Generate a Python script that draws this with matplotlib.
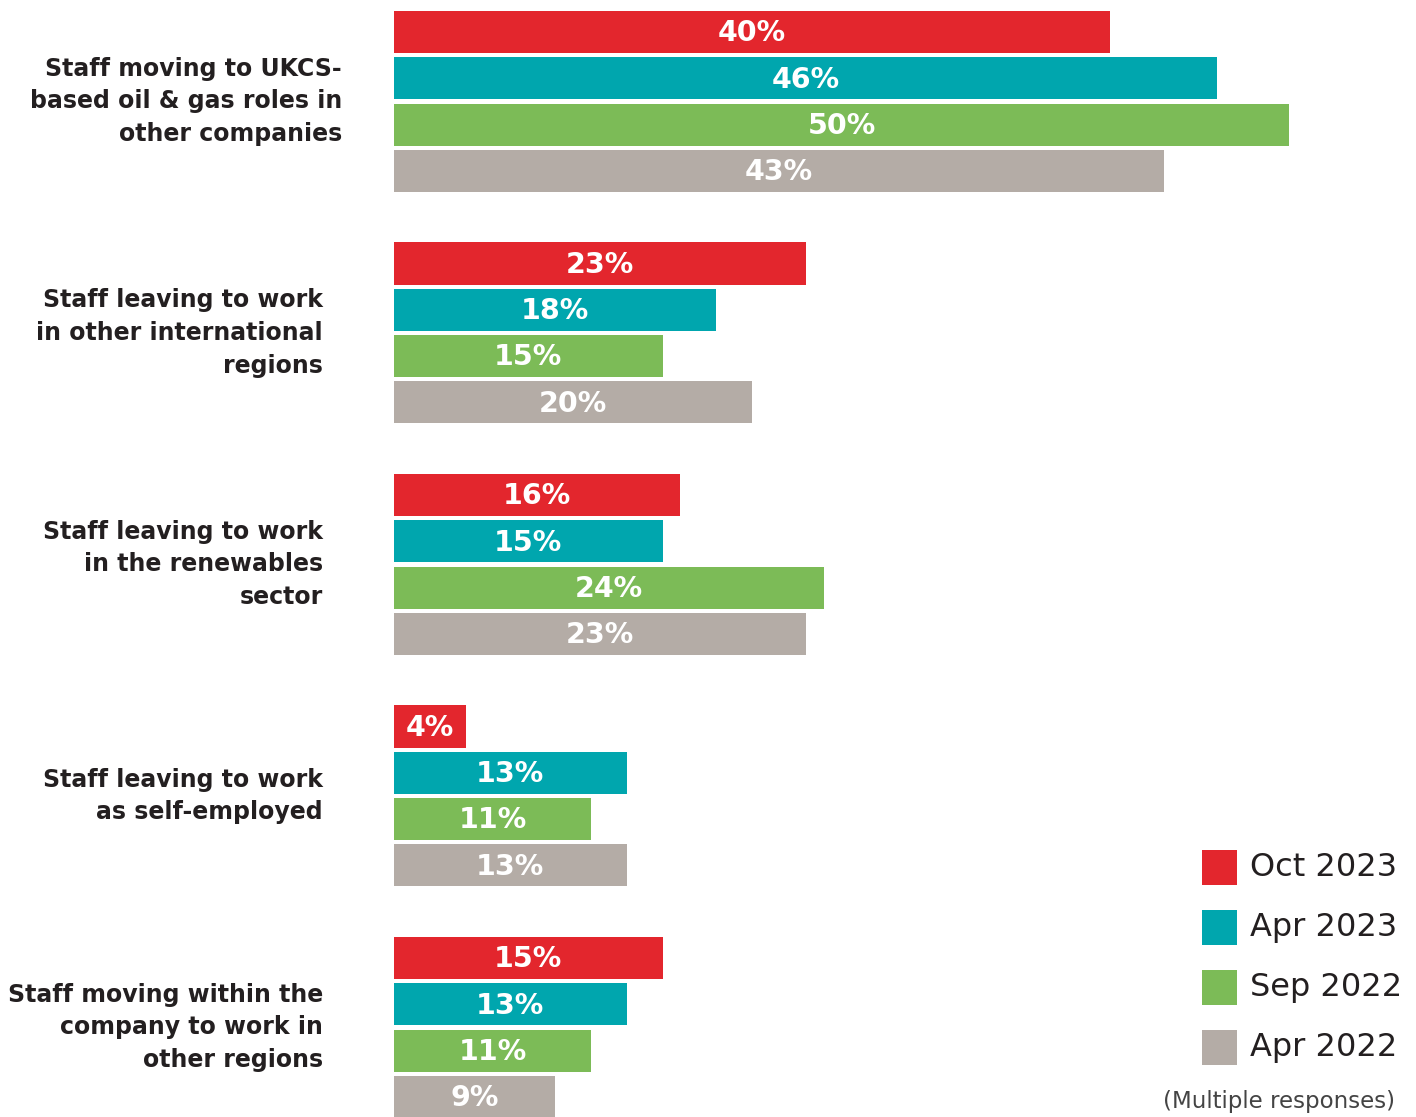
import matplotlib
matplotlib.use("Agg")
import matplotlib.pyplot as plt
from matplotlib.patches import Rectangle

plt.rcParams['font.family'] = ['DejaVu Sans']

categories = [
    "Staff moving to UKCS-\nbased oil & gas roles in\nother companies",
    "Staff leaving to work\nin other international\nregions",
    "Staff leaving to work\nin the renewables\nsector",
    "Staff leaving to work\nas self-employed",
    "Staff moving within the\ncompany to work in\nother regions",
]
series = ["Oct 2023", "Apr 2023", "Sep 2022", "Apr 2022"]
oct_2023 = [40, 23, 16, 4, 15]
apr_2023 = [46, 18, 15, 13, 13]
sep_2022 = [50, 15, 24, 11, 11]
apr_2022 = [43, 20, 23, 13, 9]
values = [oct_2023, apr_2023, sep_2022, apr_2022]
colors = ["#E3262D", "#00A6AE", "#7CBB57", "#B4ACA6"]

W, H = 1416, 1117
fig = plt.figure(figsize=(W / 100, H / 100), dpi=100)
ax = fig.add_axes([394 / W, 0, 1 - 394 / W, 1])
ax.set_xlim(0, (W - 394) / 17.9)
ax.set_ylim((H - 32) / 46.3, -32 / 46.3)
ax.axis("off")

for j, (vals, col) in enumerate(zip(values, colors)):
    for g, v in enumerate(vals):
        y = g * 5 + j
        ax.barh(y, v, height=0.91, color=col, linewidth=0)
        ax.text(v / 2, y + 0.03, f"{v}%", ha="center", va="center", color="white",
                fontsize=20.5, fontweight="bold")

for g, cat in enumerate(categories):
    xr = -2.9 if g == 0 else -3.97
    ax.text(xr, g * 5 + 1.5, cat, ha="right", va="center", fontsize=17,
            fontweight="bold", color="#231F20", linespacing=1.45, clip_on=False)

# legend drawn by hand in pixel coordinates
for i, (lab, col) in enumerate(zip(series, colors)):
    top = 850 + i * 60
    fig.add_artist(Rectangle((1202 / W, 1 - (top + 35) / H), 35 / W, 35 / H,
                             transform=fig.transFigure, color=col, lw=0))
    fig.text(1250 / W, 1 - (top + 17.5) / H, lab, ha="left", va="center",
             fontsize=23, color="#231F20")

fig.text(1395 / W, 1 - 1113 / H, "(Multiple responses)", ha="right", va="bottom",
         fontsize=16.5, color="#444444")

fig.savefig("out.png", dpi=100)
